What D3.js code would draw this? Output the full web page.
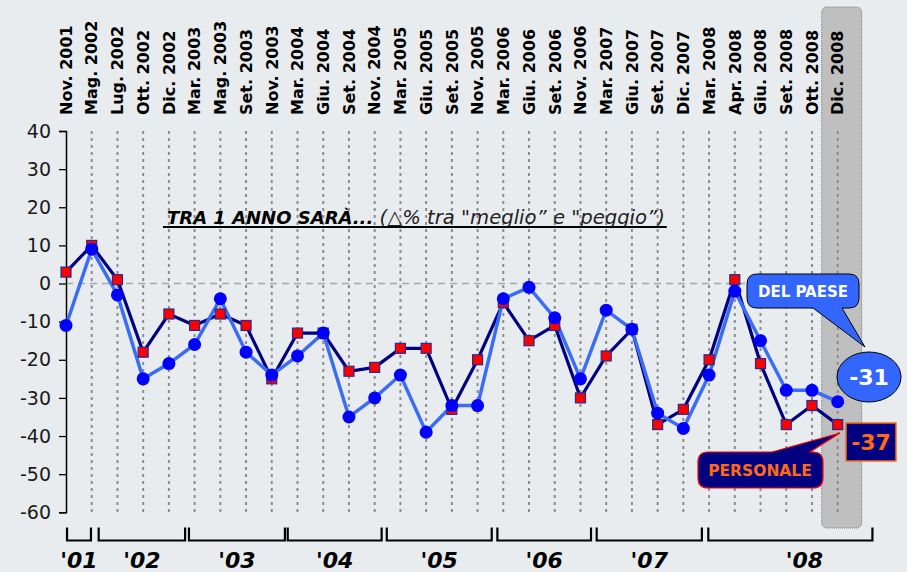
<!DOCTYPE html>
<html>
<head>
<meta charset="utf-8">
<script src="https://cdn.jsdelivr.net/npm/d3@7"></script>
<style>
  body { margin: 0; background: #fff; }
  svg { display: block; font-family: "DejaVu Sans", Verdana, sans-serif; }
</style>
</head>
<body>
<div id="chart"></div>
<script>
// category labels (top, rotated)
var categories = ["Nov. 2001","Mag. 2002","Lug. 2002","Ott. 2002","Dic. 2002",
    "Mar. 2003","Mag. 2003","Set. 2003","Nov. 2003",
    "Mar. 2004","Giu. 2004","Set. 2004","Nov. 2004",
    "Mar. 2005","Giu. 2005","Set. 2005","Nov. 2005",
    "Mar. 2006","Giu. 2006","Set. 2006","Nov. 2006",
    "Mar. 2007","Giu. 2007","Set. 2007","Dic. 2007",
    "Mar. 2008","Apr. 2008","Giu. 2008","Set. 2008","Ott. 2008","Dic. 2008"];

// situazione personale (navy line, red squares)
var personale = [3, 10, 1, -18, -8, -11, -8, -11, -25, -13, -13, -23, -22,
    -17, -17, -33, -20, -5, -15, -11, -30, -19, -12, -37, -33, -20, 1, -21, -37, -32, -37];

// situazione del paese (light blue line, blue dots)
var paese = [-11, 9, -3, -25, -21, -16, -4, -18, -24, -19, -13, -35, -30,
    -24, -39, -32, -32, -4, -1, -9, -25, -7, -12, -34, -38, -24, -2, -15, -28, -28, -31];

var yTicks = [40, 30, 20, 10, 0, -10, -20, -30, -40, -50, -60];

// year groups, span in category index units
var years = ["'01", "'02", "'03", "'04", "'05", "'06", "'07", "'08"];
var yearSpans = [[0.04, 0.97], [1.27, 4.63], [4.78, 8.51], [8.62, 12.27],
    [12.47, 16.55], [16.77, 20.41], [20.63, 24.72], [24.97, 31.35]];

var W = 907, H = 572;
var svg = d3.select("#chart").append("svg")
    .attr("width", W).attr("height", H);

svg.append("rect").attr("width", W).attr("height", H).attr("fill", "#e9ecee");

var x = d3.scalePoint().domain(categories).range([66, 837.7]);
var xi = d3.scaleLinear().domain([0, categories.length - 1]).range([66, 837.7]);
var y = d3.scaleLinear().domain([-60, 40]).range([512.3, 131]);

var last = categories[categories.length - 1];

// highlight box for last survey
svg.append("rect")
    .attr("x", x(last) - 16).attr("y", 7)
    .attr("width", 40).attr("height", 521)
    .attr("rx", 5)
    .attr("fill", "#bfbfbf")
    .attr("stroke", "#777").attr("stroke-width", 1)
    .attr("stroke-dasharray", "1,1");

// vertical dotted grid
svg.selectAll("line.grid")
    .data(categories.slice(1))
    .enter().append("line")
    .attr("class", "grid")
    .attr("x1", function(d) { return x(d); })
    .attr("x2", function(d) { return x(d); })
    .attr("y1", y(40)).attr("y2", y(-60))
    .attr("stroke", "#8c8c8c").attr("stroke-width", 2)
    .attr("stroke-dasharray", "3,4");

// zero line
svg.append("line")
    .attr("x1", x(categories[0])).attr("x2", x(last))
    .attr("y1", y(0)).attr("y2", y(0))
    .attr("stroke", "#a8a8a8").attr("stroke-width", 1.5)
    .attr("stroke-dasharray", "7,5");

// y axis
var yAxis = d3.axisLeft(y).tickValues(yTicks).tickSize(7).tickPadding(8)
    .tickFormat(function(d) { return String(d); });
var ga = svg.append("g").attr("transform", "translate(66,0)").call(yAxis);
ga.select(".domain").attr("stroke", "#000").attr("stroke-width", 1.5);
ga.selectAll(".tick line").attr("stroke", "#000").attr("stroke-width", 1.3);
ga.selectAll(".tick text").attr("fill", "#1a1a1a")
    .style("font-size", "19px").style("font-family", "DejaVu Sans");

// top category labels
svg.selectAll("text.cat")
    .data(categories)
    .enter().append("text")
    .attr("class", "cat")
    .attr("transform", function(d) { return "translate(" + x(d) + ",115) rotate(-90)"; })
    .attr("dy", "0.36em")
    .attr("font-size", 16)
    .attr("font-weight", "bold")
    .attr("fill", "#000")
    .text(function(d) { return d; });

// title
var title = svg.append("text")
    .attr("x", 167).attr("y", 224)
    .attr("font-style", "italic")
    .attr("fill", "#000");
title.append("tspan").attr("font-weight", "bold").attr("font-size", 18).text("TRA 1 ANNO SARÀ...");
title.append("tspan").attr("fill", "#222").attr("font-size", 19.6)
    .text(" (\u25B3% tra \"meglio\u201D e \"peggio\u201D)");
var tb = title.node().getBBox();
svg.append("line")
    .attr("x1", 163).attr("x2", tb.x + tb.width + 2)
    .attr("y1", 227).attr("y2", 227)
    .attr("stroke", "#000").attr("stroke-width", 2);

// lines
var line = d3.line()
    .x(function(d, i) { return x(categories[i]); })
    .y(function(d) { return y(d); });

svg.append("path").datum(personale)
    .attr("d", line)
    .attr("fill", "none").attr("stroke", "#000080").attr("stroke-width", 3.2);

svg.append("path").datum(paese)
    .attr("d", line)
    .attr("fill", "none").attr("stroke", "#3a6cf5").attr("stroke-width", 3.5);

// markers
svg.selectAll("rect.sq")
    .data(personale)
    .enter().append("rect")
    .attr("class", "sq")
    .attr("x", function(d, i) { return x(categories[i]) - 5; })
    .attr("y", function(d) { return y(d) - 5; })
    .attr("width", 10).attr("height", 10)
    .attr("fill", "#ff0000")
    .attr("stroke", "#2a2a8c").attr("stroke-width", 1.2);

svg.selectAll("circle.dot")
    .data(paese)
    .enter().append("circle")
    .attr("class", "dot")
    .attr("cx", function(d, i) { return x(categories[i]); })
    .attr("cy", function(d) { return y(d); })
    .attr("r", 6.5)
    .attr("fill", "#0000ff");

// year brackets
var br = svg.append("g");
yearSpans.forEach(function(s, i) {
    var a = xi(s[0]), b = xi(s[1]);
    br.append("path")
        .attr("d", "M" + a + ",527.5V540.5H" + b + "V527.5")
        .attr("fill", "none").attr("stroke", "#000").attr("stroke-width", 2.2);
    br.append("text")
        .attr("x", (a + b) / 2 + (i === years.length - 1 ? 14 : 0))
        .attr("y", 568)
        .attr("text-anchor", "middle")
        .attr("font-size", 22).attr("font-weight", "bold").attr("font-style", "italic")
        .attr("fill", "#000")
        .text(years[i]);
});

// callouts
function bubbleBottom(x0, y0, x1, y1, r, t0, t1, px, py) {
    return "M" + (x0 + r) + "," + y0 + "H" + (x1 - r) + "Q" + x1 + "," + y0 + " " + x1 + "," + (y0 + r) +
        "V" + (y1 - r) + "Q" + x1 + "," + y1 + " " + (x1 - r) + "," + y1 +
        "H" + t1 + "L" + px + "," + py + "L" + t0 + "," + y1 +
        "H" + (x0 + r) + "Q" + x0 + "," + y1 + " " + x0 + "," + (y1 - r) +
        "V" + (y0 + r) + "Q" + x0 + "," + y0 + " " + (x0 + r) + "," + y0 + "Z";
}
function bubbleTop(x0, y0, x1, y1, r, t0, t1, px, py) {
    return "M" + (x0 + r) + "," + y0 + "H" + t0 + "L" + px + "," + py + "L" + t1 + "," + y0 +
        "H" + (x1 - r) + "Q" + x1 + "," + y0 + " " + x1 + "," + (y0 + r) +
        "V" + (y1 - r) + "Q" + x1 + "," + y1 + " " + (x1 - r) + "," + y1 +
        "H" + (x0 + r) + "Q" + x0 + "," + y1 + " " + x0 + "," + (y1 - r) +
        "V" + (y0 + r) + "Q" + x0 + "," + y0 + " " + (x0 + r) + "," + y0 + "Z";
}

var lastP = paese[paese.length - 1], lastQ = personale[personale.length - 1];

svg.append("path")
    .attr("d", bubbleBottom(747, 274, 859, 308, 10, 813, 842, 865, 347))
    .attr("fill", "#3366ff").attr("stroke", "#000").attr("stroke-width", 1);
svg.append("text")
    .attr("x", 803).attr("y", 297)
    .attr("text-anchor", "middle")
    .attr("font-size", 15).attr("font-weight", "bold").attr("fill", "#fff")
    .text("DEL PAESE");

svg.append("ellipse")
    .attr("cx", 869).attr("cy", 377).attr("rx", 32).attr("ry", 25)
    .attr("fill", "#3366ff").attr("stroke", "#000").attr("stroke-width", 1);
svg.append("text")
    .attr("x", 869).attr("y", 385)
    .attr("text-anchor", "middle")
    .attr("font-size", 22).attr("font-weight", "bold").attr("fill", "#fff")
    .text(String(lastP));

svg.append("path")
    .attr("d", bubbleTop(698, 452, 823, 488, 10, 772, 810, 840, 433))
    .attr("fill", "#000080").attr("stroke", "#ff0000").attr("stroke-width", 1.2);
svg.append("text")
    .attr("x", 760).attr("y", 476)
    .attr("text-anchor", "middle")
    .attr("font-size", 15.5).attr("font-weight", "bold").attr("fill", "#ff6a13")
    .text("PERSONALE");

svg.append("rect")
    .attr("x", 846).attr("y", 423).attr("width", 50).attr("height", 38)
    .attr("fill", "#000080").attr("stroke", "#ff6a13").attr("stroke-width", 1.5);
svg.append("text")
    .attr("x", 871).attr("y", 450)
    .attr("text-anchor", "middle")
    .attr("font-size", 22).attr("font-weight", "bold").attr("fill", "#ff6a13")
    .text(String(lastQ));
</script>
</body>
</html>
